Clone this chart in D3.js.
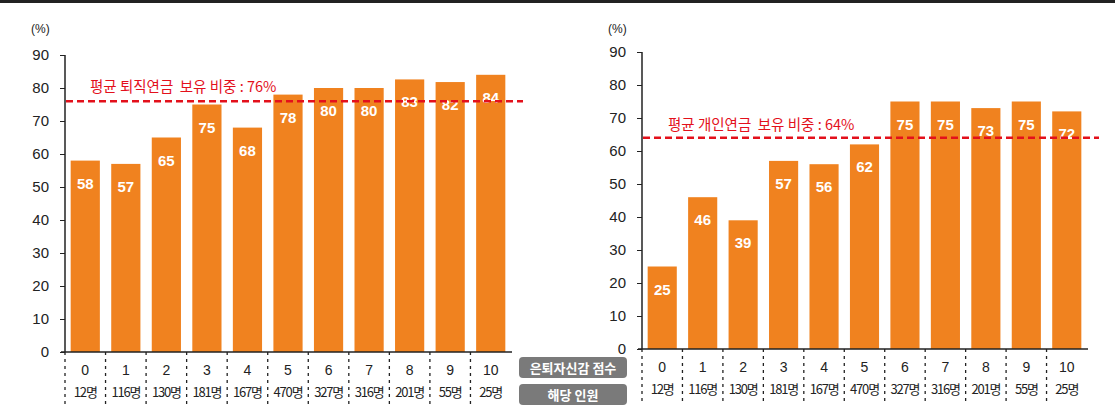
<!DOCTYPE html>
<html>
<head>
<meta charset="utf-8">
<script src="https://cdn.jsdelivr.net/npm/d3@7"></script>
<style>
  body { margin: 0; background: #fff; }
  svg { display: block; }
  text { font-family: "Liberation Sans", "Noto Sans CJK KR", sans-serif; }
  .kr { font-family: "Noto Sans CJK KR", sans-serif; }
</style>
</head>
<body>
<script>
// data
var scores = ['0', '1', '2', '3', '4', '5', '6', '7', '8', '9', '10'];
var counts = ['12명', '116명', '130명', '181명', '167명', '470명', '327명', '316명', '201명', '55명', '25명'];
var retirePension = [58, 57, 65, 75, 68, 78, 80, 80, 82.6, 81.8, 84];
var personalPension = [25, 46, 39, 57, 56, 62, 75, 75, 73, 75, 72];
var yTicks = [0, 10, 20, 30, 40, 50, 60, 70, 80, 90];
var avgRetire = 76;
var avgPersonal = 64;
var avgRetireLabel = '평균 퇴직연금  보유 비중 : 76%';
var avgPersonalLabel = '평균 개인연금  보유 비중 : 64%';
var badgeLabels = ['은퇴자신감 점수', '해당 인원'];

var svgWidth = 1115;
var svgHeight = 417;

var orange = '#f0821f';
var red = '#e3101b';

var svg = d3.select('body')
    .append('svg')
    .attr('width', svgWidth)
    .attr('height', svgHeight);

// top rule
svg.append('rect')
    .attr('x', 0)
    .attr('y', 0)
    .attr('width', svgWidth)
    .attr('height', 3)
    .attr('fill', '#222');

function drawChart(opts) {
    var xScale = d3.scaleBand()
        .domain(scores)
        .range([opts.x0, opts.x1])
        .paddingInner(0.28)
        .paddingOuter(0.14);

    var yScale = d3.scaleLinear()
        .domain([0, 90])
        .range([opts.yBottom, opts.yTop]);

    var g = svg.append('g');

    // unit label
    g.append('text')
        .attr('x', opts.x0 - 34)
        .attr('y', 33)
        .attr('font-size', '12px')
        .attr('fill', '#222')
        .text('(%)');

    // bars
    g.selectAll('rect.bar')
        .data(opts.values)
        .enter()
        .append('rect')
        .attr('class', 'bar')
        .attr('x', (d, i) => xScale(scores[i]))
        .attr('y', d => yScale(d))
        .attr('width', xScale.bandwidth())
        .attr('height', d => yScale(0) - yScale(d))
        .attr('fill', orange);

    // value labels
    g.selectAll('text.val')
        .data(opts.values)
        .enter()
        .append('text')
        .attr('class', 'val')
        .attr('x', (d, i) => xScale(scores[i]) + xScale.bandwidth() / 2)
        .attr('y', d => yScale(d) + 28)
        .attr('text-anchor', 'middle')
        .attr('font-size', '15px')
        .attr('font-weight', 'bold')
        .attr('fill', '#fff')
        .text(d => Math.round(d));

    // y axis
    var yAxis = d3.axisLeft(yScale)
        .tickValues(yTicks)
        .tickSize(5)
        .tickPadding(11);
    var yAxisG = g.append('g')
        .attr('transform', `translate(${opts.x0},0)`)
        .call(yAxis);
    yAxisG.select('.domain').remove();
    yAxisG.append('line')
        .attr('x1', 0).attr('x2', 0)
        .attr('y1', yScale(90)).attr('y2', yScale(0))
        .attr('stroke', '#222').attr('stroke-width', 1.5);
    yAxisG.selectAll('.tick line').attr('stroke', '#222');
    yAxisG.selectAll('.tick text')
        .attr('font-size', '15px')
        .attr('fill', '#222')
        .attr('font-family', '"Liberation Sans", sans-serif');

    // x axis line
    g.append('line')
        .attr('x1', opts.x0 - 4)
        .attr('x2', opts.x1 + 1)
        .attr('y1', yScale(0))
        .attr('y2', yScale(0))
        .attr('stroke', '#222')
        .attr('stroke-width', 1.5);

    // category separators
    var step = xScale.step();
    g.selectAll('line.sep')
        .data(scores)
        .enter()
        .append('line')
        .attr('class', 'sep')
        .attr('x1', (d, i) => opts.x0 + i * step)
        .attr('x2', (d, i) => opts.x0 + i * step)
        .attr('y1', yScale(0))
        .attr('y2', yScale(0) + 55)
        .attr('stroke', '#222')
        .attr('stroke-width', 1.3)
        .attr('stroke-dasharray', '3,4');

    // score labels
    g.selectAll('text.score')
        .data(scores)
        .enter()
        .append('text')
        .attr('class', 'score')
        .attr('x', d => xScale(d) + xScale.bandwidth() / 2)
        .attr('y', yScale(0) + 23)
        .attr('text-anchor', 'middle')
        .attr('font-size', '14px')
        .attr('fill', '#222')
        .text(d => d);

    // count labels
    g.selectAll('text.count')
        .data(counts)
        .enter()
        .append('text')
        .attr('class', 'count kr')
        .attr('x', (d, i) => xScale(scores[i]) + xScale.bandwidth() / 2)
        .attr('y', yScale(0) + 45)
        .attr('text-anchor', 'middle')
        .attr('font-size', '13px')
        .attr('letter-spacing', '-1.2px')
        .attr('fill', '#222')
        .text(d => d);

    // average line
    g.append('line')
        .attr('x1', opts.x0 + 1)
        .attr('x2', opts.x1 + 12)
        .attr('y1', yScale(opts.avg))
        .attr('y2', yScale(opts.avg))
        .attr('stroke', red)
        .attr('stroke-width', 2.5)
        .attr('stroke-dasharray', '7,4');

    g.append('text')
        .attr('class', 'kr')
        .attr('x', opts.labelX)
        .attr('y', opts.labelY)
        .attr('font-size', '14.5px')
        .attr('fill', red)
        .style('white-space', 'pre')
        .text(opts.label);
}

drawChart({
    values: retirePension,
    avg: avgRetire,
    label: avgRetireLabel,
    x0: 65, x1: 511,
    yTop: 55, yBottom: 352,
    labelX: 90, labelY: 92
});

drawChart({
    values: personalPension,
    avg: avgPersonal,
    label: avgPersonalLabel,
    x0: 642, x1: 1087,
    yTop: 52, yBottom: 349,
    labelX: 668, labelY: 130
});

// badges in the middle
var badges = svg.selectAll('g.badge')
    .data(badgeLabels)
    .enter()
    .append('g')
    .attr('class', 'badge')
    .attr('transform', (d, i) => `translate(519,${357 + i * 27})`);

badges.append('rect')
    .attr('width', 108)
    .attr('height', 21)
    .attr('rx', 4)
    .attr('fill', '#7a7a7a');

badges.append('text')
    .attr('class', 'kr')
    .attr('x', 54)
    .attr('y', 15.5)
    .attr('text-anchor', 'middle')
    .attr('font-size', '13px')
    .attr('font-weight', 'bold')
    .attr('fill', '#fff')
    .style('white-space', 'pre')
    .text(d => d);
</script>
</body>
</html>
